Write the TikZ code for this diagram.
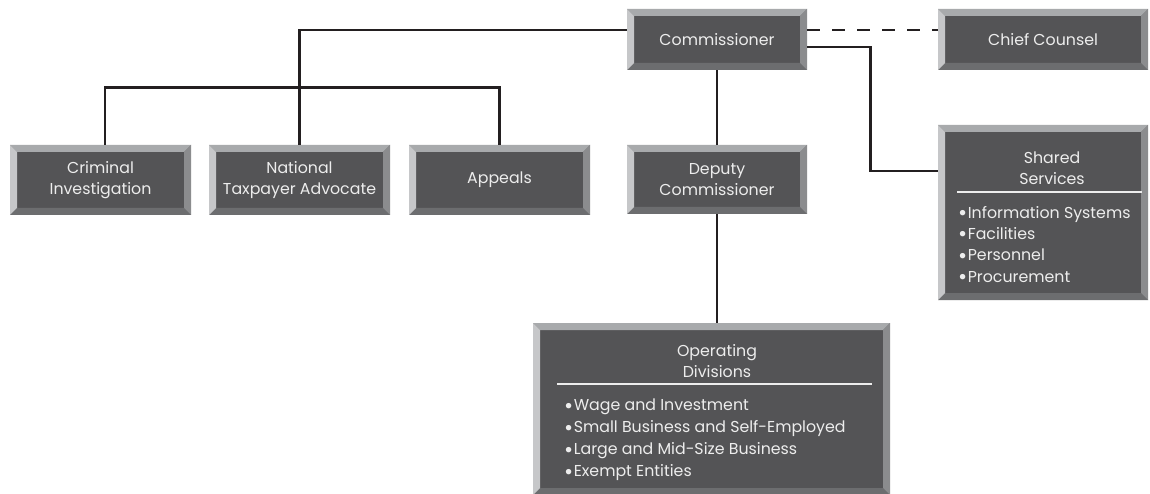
\documentclass[tikz,border=0pt]{standalone}
\usepackage{fontspec}
\setmainfont{Poppins}
\definecolor{boxfill}{HTML}{545456}
\definecolor{boxtext}{HTML}{EDEDED}
\definecolor{bvtop}{HTML}{A8AAAC}
\definecolor{bvleft}{HTML}{C6C7C9}
\definecolor{bvright}{HTML}{8B8C8E}
\definecolor{bvbot}{HTML}{6C6D6F}
\definecolor{linec}{HTML}{231F20}
\newcommand{\boxfont}{\fontsize{15.8}{21}\selectfont}
\newcommand{\bul}{\raisebox{-2.4pt}[0pt][0pt]{\scalebox{1.4}{\textbullet}}\hspace{0.5pt}}
\tikzset{
  bevel/.style={rectangle, inner sep=0pt, fill=boxfill, text=boxtext, align=center, font=\boxfont,
    path picture={
      \path (path picture bounding box.north west) coordinate (NW)
            (path picture bounding box.north east) coordinate (NE)
            (path picture bounding box.south west) coordinate (SW)
            (path picture bounding box.south east) coordinate (SE);
      \fill[bvtop] (NW) -- (NE) -- ([shift={(-7pt,-7pt)}]NE) -- ([shift={(7pt,-7pt)}]NW) -- cycle;
      \fill[bvbot] (SW) -- (SE) -- ([shift={(-7pt,7pt)}]SE) -- ([shift={(7pt,7pt)}]SW) -- cycle;
      \fill[bvleft] (NW) -- (SW) -- ([shift={(7pt,7pt)}]SW) -- ([shift={(7pt,-7pt)}]NW) -- cycle;
      \fill[bvright] (NE) -- (SE) -- ([shift={(-7pt,7pt)}]SE) -- ([shift={(-7pt,-7pt)}]NE) -- cycle;
    }},
  boxtxt/.style={inner sep=0pt, text=boxtext, font=\boxfont},
  conn/.style={draw=linec, line width=2.6pt},
  rulew/.style={draw=boxtext, line width=1.3pt}
}
\begin{document}
\begin{tikzpicture}[x=1pt,y=-1pt]
\fill[white] (0,0) rectangle (1150,494);
\useasboundingbox (0,0) rectangle (1150,494);
% boxes
\node[bevel, minimum width=180pt, minimum height=61pt] (comm) at (717,39.5) {Commissioner};
\node[bevel, minimum width=210pt, minimum height=61pt] (chief) at (1043,39.5) {Chief Counsel};
\node[bevel, minimum width=181pt, minimum height=70pt] (crim) at (100.5,180) {Criminal\\Investigation};
\node[bevel, minimum width=181pt, minimum height=70pt] (nat) at (299.5,180) {National\\Taxpayer Advocate};
\node[bevel, minimum width=181pt, minimum height=70pt] (appeals) at (499.5,180) {Appeals};
\node[bevel, minimum width=180pt, minimum height=69pt] (dep) at (717,179.5) {Deputy\\Commissioner};
\node[bevel, minimum width=210pt, minimum height=175pt] (shared) at (1043,212.5) {};
\node[bevel, minimum width=357pt, minimum height=172pt] (ops) at (711.5,409) {};
% box contents
\node[boxtxt, align=center] (sharedt) at (1052,168) {Shared\\Services};
\draw[rulew] (957,192) coordinate (sr1) -- (1142,192) coordinate (sr2);
\node[boxtxt, align=left, anchor=north west, font=\fontsize{15.8}{21.3}\selectfont] (sharedl) at (958,206)
  {\bul Information Systems\\\bul Facilities\\\bul Personnel\\\bul Procurement};
\node[boxtxt, align=center] (opst) at (717,361) {Operating\\Divisions};
\draw[rulew] (557,384) coordinate (or1) -- (872,384) coordinate (or2);
\node[boxtxt, align=left, anchor=north west, font=\fontsize{15.8}{22}\selectfont] (opsl) at (564,399)
  {\bul Wage and Investment\\\bul Small Business and Self-Employed\\\bul Large and Mid-Size Business\\\bul Exempt Entities};
% connectors
\draw[conn] ([yshift=9.5pt]comm.west) -| (nat.north);
\draw[conn] ([xshift=4.5pt]crim.north) -- ++(0,-57) -| (appeals.north);
\draw[conn] (comm.south) -- (dep.north);
\draw[conn] (dep.south) -- (dep.south |- ops.north);
\draw[conn, dash pattern=on 13pt off 12pt] ([yshift=9.5pt]comm.east) -- ([yshift=9.5pt]chief.west);
\draw[conn] ([yshift=-7.5pt]comm.east) -- ++(63,0) |- ([yshift=41.5pt]shared.west);
\end{tikzpicture}
\end{document}
